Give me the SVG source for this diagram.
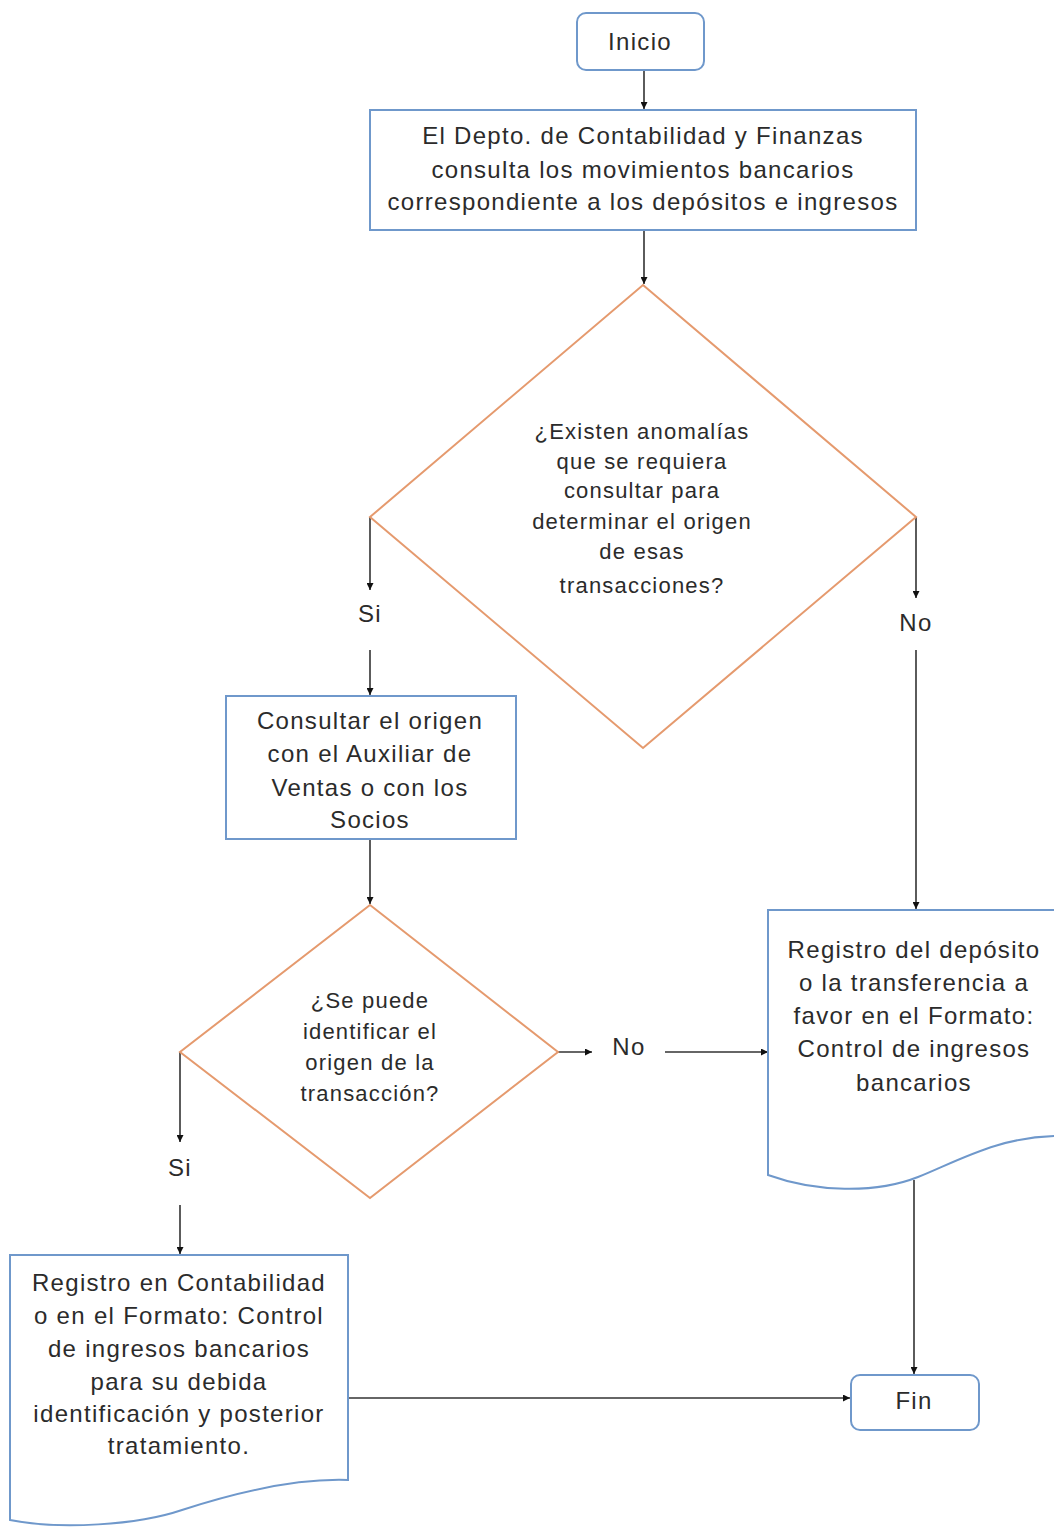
<svg xmlns="http://www.w3.org/2000/svg" width="1054" height="1531" viewBox="0 0 1054 1531">
<style>
.box{fill:#ffffff;stroke:#6f98cb;stroke-width:2}
.dia{fill:#ffffff;stroke:#e59a6e;stroke-width:2}
.t{font-family:"Liberation Sans",Arial,sans-serif;font-size:24px;letter-spacing:1.3px;fill:#2b2b2b;text-anchor:middle;dominant-baseline:central}
.td{font-family:"Liberation Sans",Arial,sans-serif;font-size:22px;letter-spacing:1.2px;fill:#2b2b2b;text-anchor:middle;dominant-baseline:central}
.c{fill:none;stroke:#333;stroke-width:1.6}
</style>
<defs>
<marker id="a" viewBox="0 0 10 10" refX="10" refY="5" markerWidth="7" markerHeight="7" orient="auto" markerUnits="userSpaceOnUse">
<path d="M0,0 L10,5 L0,10 Z" fill="#111"/>
</marker>
</defs>
<rect width="1054" height="1531" fill="#ffffff"/>
<g id="connectors">
<path class="c" d="M644,70 V109" marker-end="url(#a)"/>
<path class="c" d="M644,230 V284" marker-end="url(#a)"/>
<path class="c" d="M370,517 V590" marker-end="url(#a)"/>
<path class="c" d="M370,650 V695" marker-end="url(#a)"/>
<path class="c" d="M916,517 V598" marker-end="url(#a)"/>
<path class="c" d="M916,650 V909" marker-end="url(#a)"/>
<path class="c" d="M370,839 V904" marker-end="url(#a)"/>
<path class="c" d="M180,1052 V1142" marker-end="url(#a)"/>
<path class="c" d="M180,1205 V1254" marker-end="url(#a)"/>
<path class="c" d="M558,1052 H592" marker-end="url(#a)"/>
<path class="c" d="M665,1052 H768" marker-end="url(#a)"/>
<path class="c" d="M914,1180 V1374" marker-end="url(#a)"/>
<path class="c" d="M348,1398 H850" marker-end="url(#a)"/>
<text class="t" x="370" y="613">Si</text>
<text class="t" x="916" y="622">No</text>
<text class="t" x="629" y="1046">No</text>
<text class="t" x="180" y="1167">Si</text>
</g>
<g id="inicio">
<rect class="box" x="577" y="13" width="127" height="57" rx="9"/>
<text class="t" x="640" y="41">Inicio</text>
</g>
<g id="consulta">
<rect class="box" x="370" y="110" width="546" height="120"/>
<text class="t" x="643" y="135">El Depto. de Contabilidad y Finanzas</text>
<text class="t" x="643" y="169">consulta los movimientos bancarios</text>
<text class="t" x="643" y="201">correspondiente a los depósitos e ingresos</text>
</g>
<g id="decision1">
<polygon class="dia" points="643,285 916,517 643,748 370,517"/>
<text class="td" x="642" y="431">¿Existen anomalías</text>
<text class="td" x="642" y="461">que se requiera</text>
<text class="td" x="642" y="490">consultar para</text>
<text class="td" x="642" y="521">determinar el origen</text>
<text class="td" x="642" y="551">de esas</text>
<text class="td" x="642" y="585">transacciones?</text>
</g>
<g id="consultar-origen">
<rect class="box" x="226" y="696" width="290" height="143"/>
<text class="t" x="370" y="720">Consultar el origen</text>
<text class="t" x="370" y="753">con el Auxiliar de</text>
<text class="t" x="370" y="787">Ventas o con los</text>
<text class="t" x="370" y="819">Socios</text>
</g>
<g id="decision2">
<polygon class="dia" points="370,905 558,1052 370,1198 180,1052"/>
<text class="td" x="370" y="1000">¿Se puede</text>
<text class="td" x="370" y="1031">identificar el</text>
<text class="td" x="370" y="1062">origen de la</text>
<text class="td" x="370" y="1093">transacción?</text>
</g>
<g id="registro-deposito">
<path class="box" d="M768,910 H1060 V1136 C1000,1136 960,1160 918,1177 C875,1194 815,1192 768,1175 Z"/>
<text class="t" x="914" y="949">Registro del depósito</text>
<text class="t" x="914" y="982">o la transferencia a</text>
<text class="t" x="914" y="1015">favor en el Formato:</text>
<text class="t" x="914" y="1048">Control de ingresos</text>
<text class="t" x="914" y="1082">bancarios</text>
</g>
<g id="registro-contabilidad">
<path class="box" d="M10,1255 H348 V1480 C290,1478 225,1496 182,1510 C138,1525 60,1530 10,1520 Z"/>
<text class="t" x="179" y="1282">Registro en Contabilidad</text>
<text class="t" x="179" y="1315">o en el Formato: Control</text>
<text class="t" x="179" y="1348">de ingresos bancarios</text>
<text class="t" x="179" y="1381">para su debida</text>
<text class="t" x="179" y="1413">identificación y posterior</text>
<text class="t" x="179" y="1445">tratamiento.</text>
</g>
<g id="fin">
<rect class="box" x="851" y="1375" width="128" height="55" rx="9"/>
<text class="t" x="914" y="1400">Fin</text>
</g>
</svg>
